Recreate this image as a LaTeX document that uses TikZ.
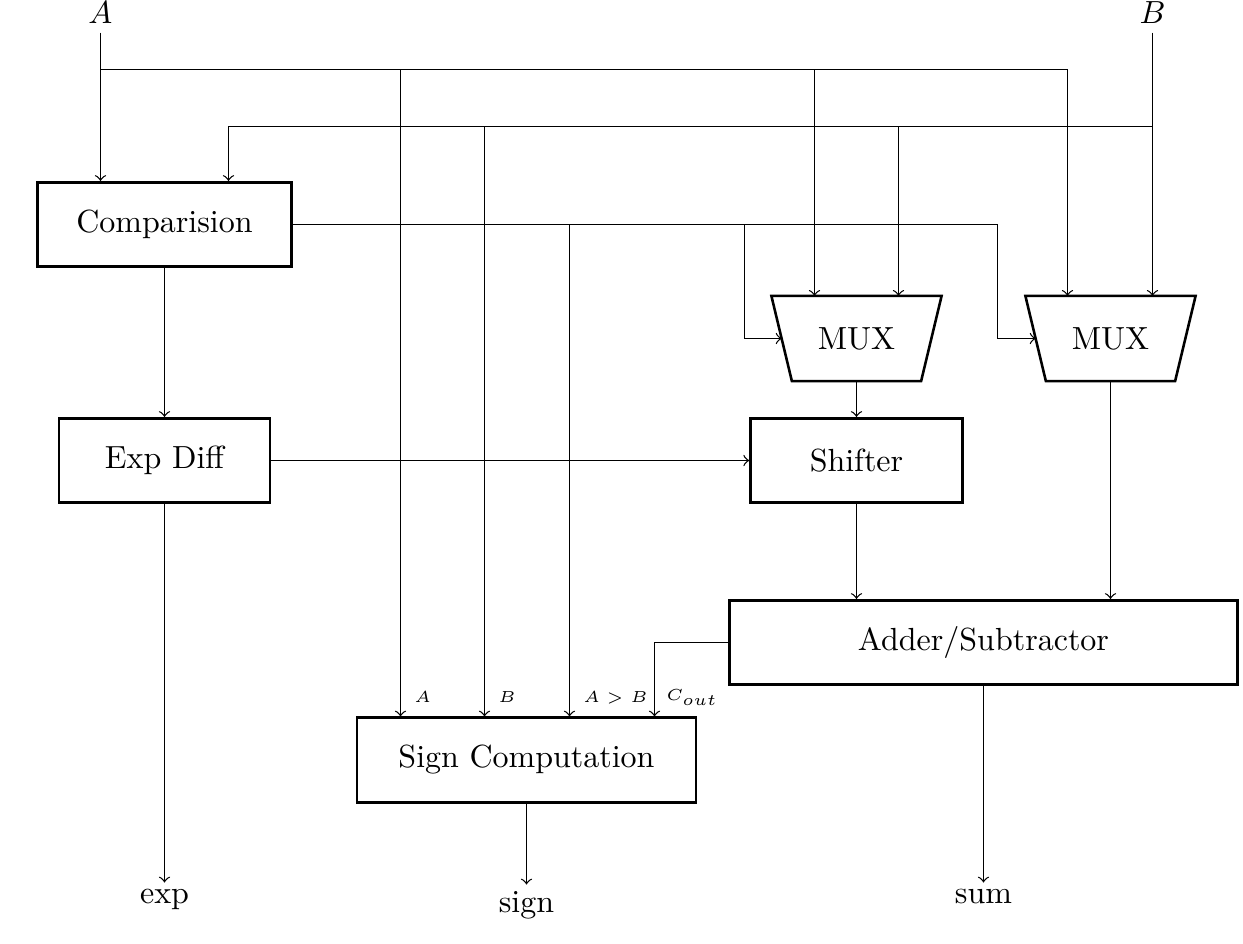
\documentclass[tikz,border=0pt]{standalone}
\usetikzlibrary{calc}
\begin{document}
\begin{tikzpicture}[x=0.3125pt,y=-0.3125pt,
  box/.style={draw, thick, minimum height=26.4pt, inner sep=0pt},
  mux/.style={minimum width=52.8pt, minimum height=26.25pt, inner sep=0pt},
  lbl/.style={font=\fontsize{5.5}{6}\selectfont, inner sep=1pt, anchor=west},
  wire/.style={->, line width=0.4pt}]
\useasboundingbox (0,0) rectangle (1243,944);
\begin{scope}[shift={(0.5,0.5)}]
% nodes
\node (Ain) at (100,12) {$A$};
\node (Bin) at (1152,12) {$B$};
\node[box, minimum width=79.4pt] (cmp) at (164,224) {Comparision};
\node[box, minimum width=65.9pt] (exd) at (164,460) {Exp Diff};
\node[mux] (muxL) at (856,338) {MUX};
\node[mux] (muxR) at (1110,338) {MUX};
\node[box, minimum width=66.25pt] (shf) at (856,460) {Shifter};
\node[box, minimum width=158.75pt] (add) at (983,642) {Adder/Subtractor};
\node[box, minimum width=105.9pt] (sgn) at (526,759.5) {Sign Computation};
\node[anchor=north, inner sep=2pt] (exp) at (164,882) {exp};
\node[anchor=north, inner sep=2pt] (sgo) at (526,884) {sign};
\node[anchor=north, inner sep=2pt] (sum) at (983,882) {sum};

% MUX outlines
\foreach \m in {muxL,muxR}{
  \draw[thick] (\m.north west) -- (\m.north east) -- ($(\m.south east)+(-20.5,0)$)
    -- ($(\m.south west)+(20.5,0)$) -- cycle;
}
\coordinate (mLw) at ($(muxL.west)+(10.25,0)$);
\coordinate (mRw) at ($(muxR.west)+(10.25,0)$);
\coordinate (mLa) at ($(muxL.north)+(-42,0)$);
\coordinate (mLb) at ($(muxL.north)+(42,0)$);
\coordinate (mRa) at ($(muxR.north)+(-43,0)$);
\coordinate (mRb) at ($(muxR.north)+(42,0)$);
\coordinate (cB) at ($(cmp.north)+(64,0)$);

% bus coordinates
\coordinate (a0) at (100,32);
\coordinate (b0) at (1152,32);
\coordinate (abus) at (100,69);
\coordinate (bbus) at (1152,126);

% A input
\draw[wire] (a0) -- (a0 |- cmp.north);
\draw[wire] (abus) -| (mRa);
\draw[wire] (400,69) -- (400,0 |- sgn.north);
\draw[wire] (mLa |- abus) -- (mLa);

% B input
\draw[wire] (b0) -- (mRb);
\draw[wire] (bbus) -| (cB);
\draw[wire] (484,126) -- (484,0 |- sgn.north);
\draw[wire] (mLb |- bbus) -- (mLb);

% comparison output
\draw[wire] (cmp.east) -| (997,338) -- (mRw);
\draw[wire] (744,0 |- cmp.east) |- (mLw);
\draw[wire] (569,0 |- cmp.east) -- (569,0 |- sgn.north);

% datapath
\draw[wire] (cmp.south) -- (exd.north);
\draw[wire] (exd.east) -- (shf.west);
\draw[wire] (exd.south) -- (exp.north);
\draw[wire] (muxL.south) -- (muxL.south |- shf.north);
\draw[wire] (shf.south) -- (shf.south |- add.north);
\draw[wire] (muxR.south) -- (muxR.south |- add.north);
\draw[wire] (add.west) -| (654,0 |- sgn.north);
\draw[wire] (add.south) -- (sum.north);
\draw[wire] (sgn.south) -- (sgo.north);

% input labels
\node[lbl] (lA) at (410,697) {$A$};
\node[lbl] (lB) at (494,697) {$B$};
\node[lbl] (lAB) at (579,697) {$A>B$};
\node[lbl] (lC) at (662,697) {$C_{out}$};
\end{scope}
\end{tikzpicture}
\end{document}
